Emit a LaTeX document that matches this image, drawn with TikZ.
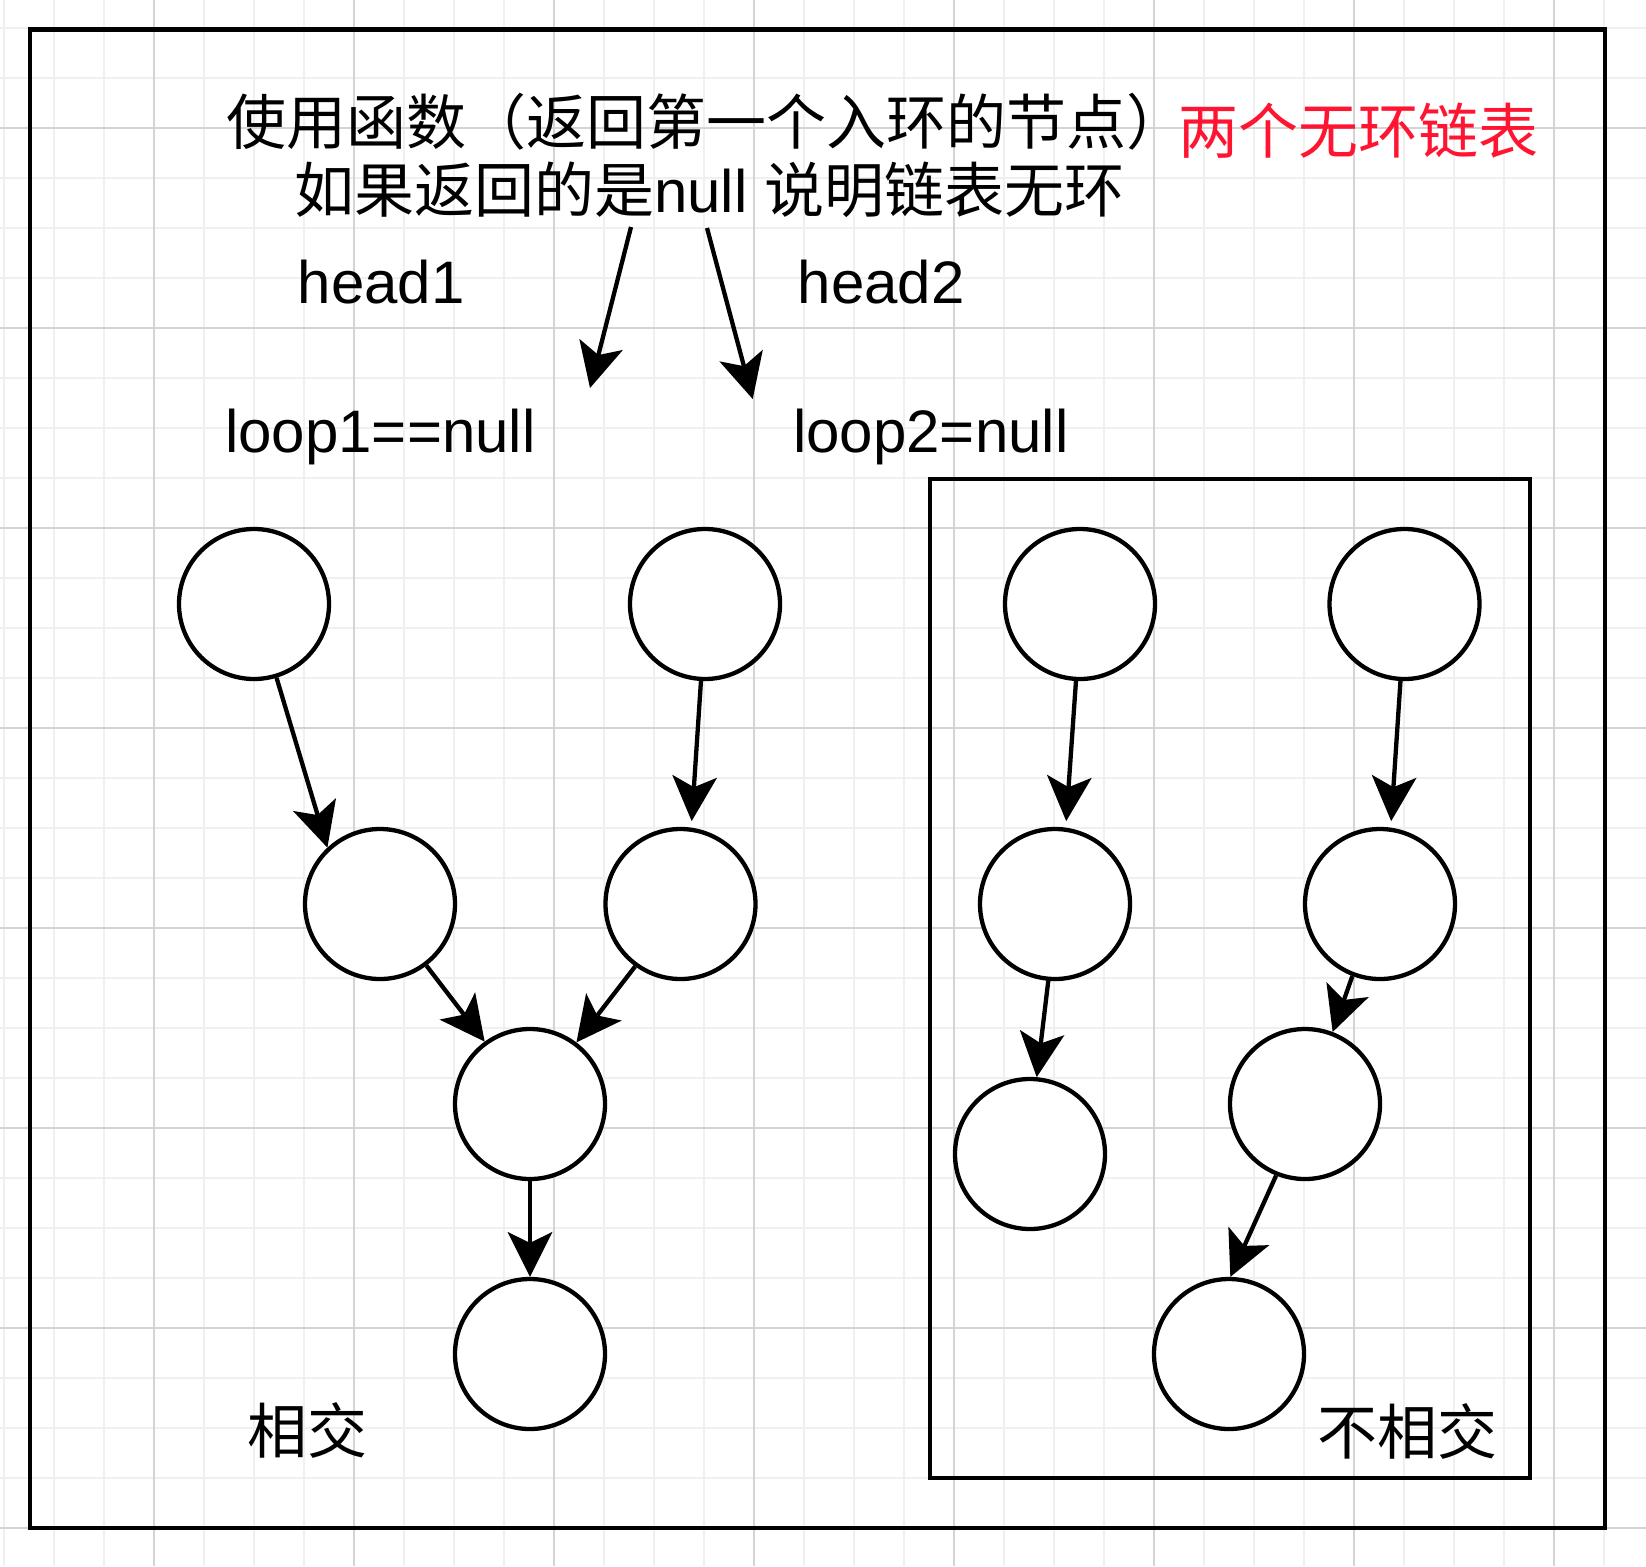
\documentclass[tikz,border=0pt]{standalone}
\usepackage{fontspec}
\setmainfont{Liberation Sans}
\newfontfamily\cjk{Noto Sans CJK SC}
\usetikzlibrary{arrows.meta}
\definecolor{gridminor}{RGB}{240,240,240}
\definecolor{gridmajor}{RGB}{212,212,212}
\definecolor{titlered}{RGB}{255,20,50}
\begin{document}
\begin{tikzpicture}[x=1pt,y=-1pt,
  listnode/.style={circle, draw=black, line width=4.3pt, fill=white, minimum size=150pt, inner sep=0pt},
  link/.style={line width=4.3pt, -{Stealth[length=45pt,width=45pt,inset=11pt,line width=0pt]}},
  txt/.style={font=\fontsize{60}{70}\selectfont, inner sep=0pt, anchor=base west},
  frame/.style={draw=black, line width=4.5pt, inner sep=0pt}
]
\useasboundingbox (0,0) rectangle (1646,1566);
\fill[white] (0,0) rectangle (1646,1566);
% grid
\foreach \x in {4,54,...,1646} \draw[gridminor, line width=1.5pt] (\x,0) -- (\x,1566);
\foreach \y in {28,78,...,1566} \draw[gridminor, line width=1.5pt] (0,\y) -- (1646,\y);
\foreach \x in {154,354,...,1646} \draw[gridmajor, line width=1.5pt] (\x,0) -- (\x,1566);
\foreach \y in {128,328,...,1566} \draw[gridmajor, line width=1.5pt] (0,\y) -- (1646,\y);

% frames
\node[frame, minimum width=1575pt, minimum height=1498.5pt] (outer) at (817.5,778.75) {};
\node[frame, minimum width=600pt, minimum height=999pt] (inner) at (1230,978.5) {};

% texts
\node[txt] (title1) at (226,144) {\cjk 使用函数（返回第一个入环的节点）};
\node[txt] (title2) at (294,212) {{\cjk 如果返回的是}null {\cjk 说明链表无环}};
\node[txt, text=titlered] (red) at (1178,153) {\cjk 两个无环链表};
\node[txt] (head1) at (297.5,303) {head1};
\node[txt] (head2) at (797.5,303) {head2};
\node[txt] (loop1) at (225,452) {loop1==null};
\node[txt] (loop2) at (793,452) {loop2=null};
\node[txt] (xj) at (247,1453) {\cjk 相交};
\node[txt] (bxj) at (1317,1454) {\cjk 不相交};

% nodes, left group
\node[listnode] (a1) at (254,604) {};
\node[listnode] (a2) at (705,604) {};
\node[listnode] (b1) at (380,904) {};
\node[listnode] (b2) at (680.5,904) {};
\node[listnode] (c) at (530,1104) {};
\node[listnode] (d) at (530,1354) {};
% nodes, right group
\node[listnode] (e1) at (1080,604) {};
\node[listnode] (f1) at (1404.5,604) {};
\node[listnode] (e2) at (1055,904) {};
\node[listnode] (f2) at (1380,904) {};
\node[listnode] (e3) at (1030,1154) {};
\node[listnode] (f3) at (1305,1104) {};
\node[listnode] (f4) at (1229,1354) {};

% top arrows
\coordinate (t1s) at (631,227);
\coordinate (t1e) at (590,388);
\coordinate (t2s) at (707,228);
\coordinate (t2e) at (752.7,399);
\draw[link] (t1s) -- (t1e);
\draw[link] (t2s) -- (t2e);

% links, left group
\draw[link] (a1.-73) -- (b1.133.5);
\draw[link, shorten >=6.5pt] (a2.-93.3) -- (b2.82.8);
\draw[link] (b1.-53.6) -- (c.126.3);
\draw[link] (b2.-126.7) -- (c.53.7);
\draw[link] (c.-90) -- (d.90);
% links, right group
\draw[link, shorten >=6.5pt] (e1.-93.8) -- (e2.82.4);
\draw[link] (e2.-95.5) -- (e3.85);
\draw[link, shorten >=6.5pt] (f1.-93.4) -- (f2.82.7);
\draw[link] (f2.-111.5) -- (f3.69.9);
\draw[link] (f3.-112.4) -- (f4.89.3);
\end{tikzpicture}
\end{document}
